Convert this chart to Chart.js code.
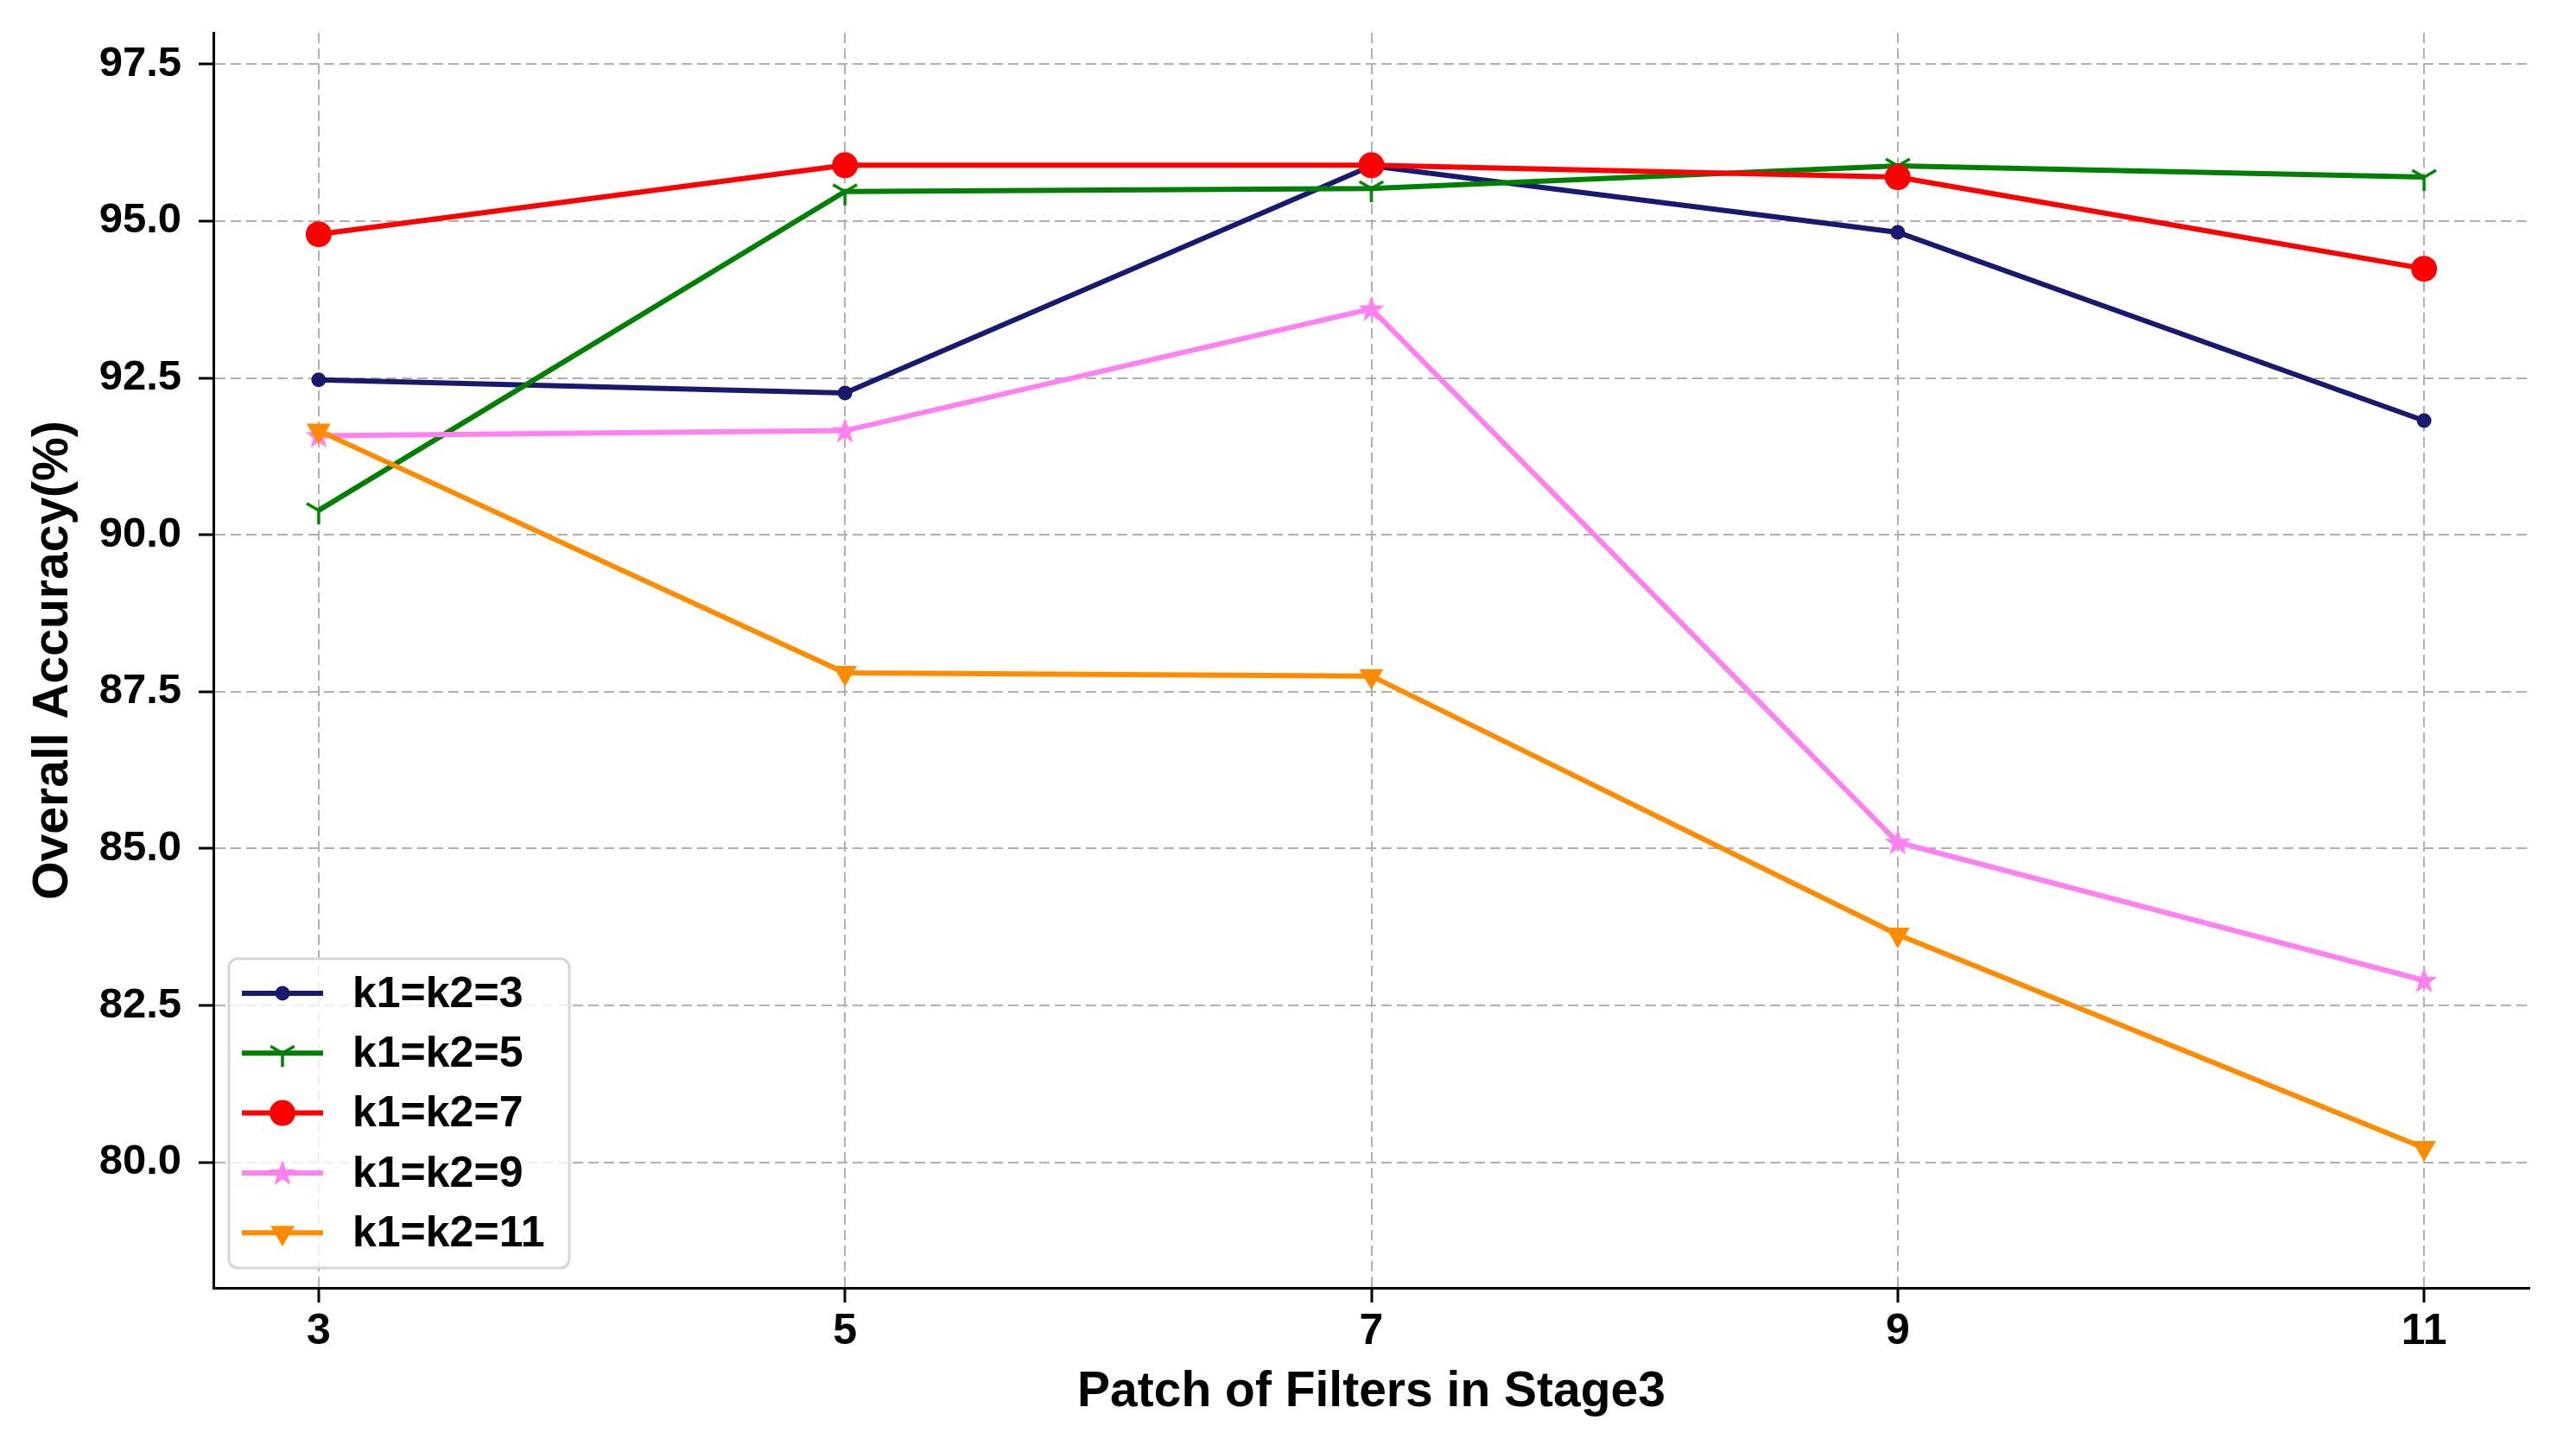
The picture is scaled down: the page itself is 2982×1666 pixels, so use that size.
<!DOCTYPE html>
<html>
<head>
<meta charset="utf-8">
<title>Overall Accuracy vs Patch of Filters</title>
<script src="https://cdn.jsdelivr.net/npm/chart.js@4.4.1/dist/chart.umd.min.js"></script>
<style>
  html, body { margin: 0; padding: 0; background: #fff; }
  #wrap { width: 2982px; height: 1666px; position: relative; }
</style>
</head>
<body>
<div id="wrap"><canvas id="accChart"></canvas></div>
<script>
// Overall accuracy for each kernel setting vs. patch size in stage 3

const patchSizes = [3, 5, 7, 9, 11];
const yTicks = [80, 82.5, 85, 87.5, 90, 92.5, 95, 97.5];

const seriesLabels = ['k1=k2=3', 'k1=k2=5', 'k1=k2=7', 'k1=k2=9', 'k1=k2=11'];
const k3  = [92.47, 92.26, 95.88, 94.82, 91.82];
const k5  = [90.39, 95.47, 95.52, 95.88, 95.70];
const k7  = [94.79, 95.89, 95.89, 95.70, 94.24];
const k9  = [91.58, 91.66, 93.60, 85.10, 82.90];
const k11 = [91.66, 87.80, 87.75, 83.63, 80.23];

const FONT = '"Liberation Sans", Arial, sans-serif';
const LINE_W = 6;

// matplotlib style markers that chart.js doesn't have
function makeTriDown(color) {
    const c = document.createElement('canvas');
    c.width = 40; c.height = 40;
    const g = c.getContext('2d');
    const r = 16, a = Math.PI / 6;
    g.strokeStyle = color;
    g.lineWidth = 3.5;
    g.beginPath();
    g.moveTo(20, 20); g.lineTo(20, 20 + r);
    g.moveTo(20, 20); g.lineTo(20 - r * Math.cos(a), 20 - r * Math.sin(a));
    g.moveTo(20, 20); g.lineTo(20 + r * Math.cos(a), 20 - r * Math.sin(a));
    g.stroke();
    return c;
}

function makeStar(color) {
    const c = document.createElement('canvas');
    c.width = 36; c.height = 36;
    const g = c.getContext('2d');
    const R = 16, rIn = 6.5;
    g.fillStyle = color;
    g.beginPath();
    for (let i = 0; i < 10; i++) {
        const rad = i % 2 === 0 ? R : rIn;
        const ang = -Math.PI / 2 + i * Math.PI / 5;
        const px = 18 + rad * Math.cos(ang), py = 19 + rad * Math.sin(ang);
        i === 0 ? g.moveTo(px, py) : g.lineTo(px, py);
    }
    g.closePath();
    g.fill();
    return c;
}

const colors = ['#191970', '#008000', '#ff0000', '#ff80f0', '#ff8c00'];
const markers = [
    { pointStyle: 'circle', radius: 8.5, rotation: 0 },
    { pointStyle: makeTriDown(colors[1]), radius: 16, rotation: 0 },
    { pointStyle: 'circle', radius: 15, rotation: 0 },
    { pointStyle: makeStar(colors[3]), radius: 16, rotation: 0 },
    { pointStyle: 'triangle', radius: 16, rotation: 180 }
];

function toPoints(values) {
    return values.map((v, i) => ({ x: patchSizes[i], y: v }));
}

const allSeries = [k3, k5, k7, k9, k11];

const datasets = allSeries.map((vals, i) => ({
    label: seriesLabels[i],
    data: toPoints(vals),
    borderColor: colors[i],
    backgroundColor: colors[i],
    borderWidth: LINE_W,
    tension: 0,
    pointStyle: markers[i].pointStyle,
    pointRadius: markers[i].radius,
    pointRotation: markers[i].rotation,
    pointBorderWidth: 0,
    pointBackgroundColor: colors[i],
    order: allSeries.length - i // later series on top, like matplotlib
}));

// legend drawn by hand so it sits inside the plot with a frame
const legendBox = {
    id: 'legendBox',
    afterDraw(chart) {
        const ctx = chart.ctx;
        const area = chart.chartArea;
        const left = area.left + 18;
        const bottom = area.bottom - 23;
        const w = 394, h = 358;
        const top = bottom - h;
        ctx.save();
        ctx.beginPath();
        ctx.roundRect(left, top, w, h, 10);
        ctx.fillStyle = 'rgba(255,255,255,0.8)';
        ctx.fill();
        ctx.lineWidth = 3;
        ctx.strokeStyle = '#d6d6d6';
        ctx.stroke();

        chart.data.datasets.forEach((ds, i) => {
            const y = top + 40 + i * 69.3;
            const cx = left + 62;
            ctx.beginPath();
            ctx.strokeStyle = ds.borderColor;
            ctx.lineWidth = LINE_W;
            ctx.moveTo(cx - 47, y);
            ctx.lineTo(cx + 47, y);
            ctx.stroke();
            ctx.fillStyle = ds.pointBackgroundColor;
            Chart.helpers.drawPoint(ctx, {
                pointStyle: ds.pointStyle,
                radius: ds.pointRadius,
                rotation: ds.pointRotation,
                borderWidth: 0
            }, cx, y);
            ctx.fillStyle = '#000';
            ctx.font = 'bold 50px ' + FONT;
            ctx.textAlign = 'left';
            ctx.textBaseline = 'middle';
            ctx.fillText(ds.label, left + 143, y + 2);
        });
        ctx.restore();
    }
};

const gridStyle = {
    color: '#b0b0b0',
    lineWidth: 2,
    drawTicks: true,
    tickLength: 17,
    tickWidth: 3,
    tickColor: '#000',
    tickBorderDash: []
};
const axisBorder = { display: true, color: '#000', width: 3, dash: [12, 6] };

const ctx = document.getElementById('accChart').getContext('2d');
const accChart = new Chart(ctx, {
    type: 'line',
    data: { datasets: datasets },
    options: {
        responsive: true,
        maintainAspectRatio: false,
        devicePixelRatio: 1,
        animation: false,
        layout: { padding: { top: 38, right: 54, left: 0, bottom: 0 } },
        plugins: {
            legend: { display: false },
            tooltip: { enabled: false }
        },
        scales: {
            x: {
                type: 'linear',
                min: 2.6,
                max: 11.4,
                afterBuildTicks: (axis) => { axis.ticks = patchSizes.map(v => ({ value: v })); },
                afterFit: (axis) => { axis.height = 175; axis.paddingLeft = 0; axis.paddingRight = 0; },
                grid: gridStyle,
                border: axisBorder,
                ticks: {
                    color: '#000',
                    padding: 4,
                    font: { family: FONT, size: 50, weight: 'bold' },
                    callback: (v) => String(v)
                },
                title: {
                    display: true,
                    text: 'Patch of Filters in Stage3',
                    color: '#000',
                    font: { family: FONT, size: 57, weight: 'bold' },
                    padding: { top: 0, bottom: 20 }
                }
            },
            y: {
                min: 78,
                max: 98,
                afterBuildTicks: (axis) => { axis.ticks = yTicks.map(v => ({ value: v })); },
                afterFit: (axis) => { axis.width = 247; axis.paddingTop = 0; axis.paddingBottom = 0; },
                grid: gridStyle,
                border: axisBorder,
                ticks: {
                    color: '#000',
                    padding: 20,
                    font: { family: FONT, size: 49, weight: 'bold' },
                    callback: (v) => Number(v).toFixed(1)
                },
                title: {
                    display: true,
                    text: 'Overall Accuracy(%)',
                    color: '#000',
                    font: { family: FONT, size: 57, weight: 'bold' },
                    padding: { top: 28, bottom: 0 }
                }
            }
        }
    },
    plugins: [legendBox]
});
</script>
</body>
</html>
